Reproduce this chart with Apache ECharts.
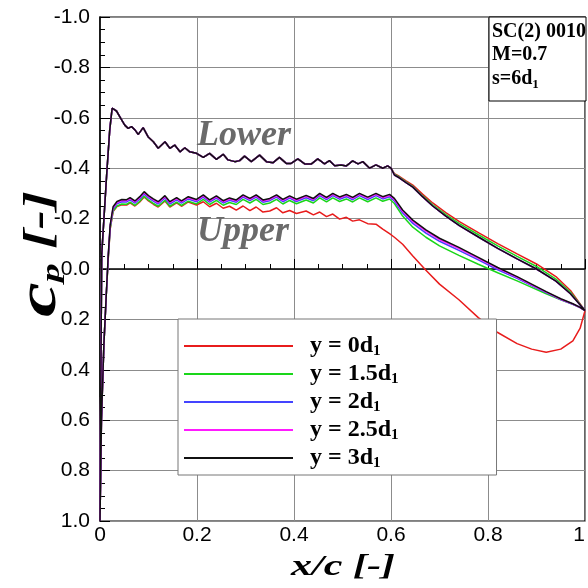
<!DOCTYPE html>
<html><head><meta charset="utf-8">
<script src="https://cdn.jsdelivr.net/npm/echarts@6/dist/echarts.min.js"></script>
<style>html,body{margin:0;padding:0;background:#fff}#c{width:588px;height:588px}</style>
</head><body><div id="c"></div>
<script>
// ---- tick labels ----
const X_TICKS = ['0', '0.2', '0.4', '0.6', '0.8', '1'];
const Y_TICKS = ['-1.0', '-0.8', '-0.6', '-0.4', '-0.2', '0.0', '0.2', '0.4', '0.6', '0.8', '1.0'];

// ---- series (spacing y in d1) ----
const SPACINGS = ['0', '1.5', '2', '2.5', '3'];
const COLORS = ['#e81c1c', '#1ad61a', '#4444ff', '#ff1aff', '#111111'];

// ---- upper surface: x/c from leading edge to trailing edge ----
const UPPER_X = [0, 0.003, 0.008, 0.013, 0.017, 0.021, 0.027, 0.035, 0.045, 0.055,
  0.062, 0.072, 0.082, 0.091, 0.100, 0.110, 0.120, 0.134, 0.144, 0.158,
  0.168, 0.182, 0.199, 0.213, 0.226, 0.240, 0.254, 0.267, 0.281, 0.295,
  0.309, 0.322, 0.336, 0.350, 0.364, 0.377, 0.391, 0.405, 0.425, 0.440,
  0.453, 0.467, 0.480, 0.494, 0.508, 0.521, 0.535, 0.552, 0.569, 0.583,
  0.597, 0.607, 0.624, 0.645, 0.672, 0.700, 0.740, 0.780, 0.820, 0.860,
  0.890, 0.920, 0.950, 0.975, 0.990, 1.0];

const UPPER_CP_Y0 = [1.0, 0.6, 0.3, 0.1, -0.040, -0.158, -0.228, -0.248, -0.255, -0.254,
  -0.262, -0.250, -0.266, -0.286, -0.270, -0.257, -0.246, -0.270, -0.246, -0.262,
  -0.249, -0.266, -0.254, -0.267, -0.247, -0.261, -0.241, -0.249, -0.234, -0.250,
  -0.232, -0.246, -0.226, -0.230, -0.243, -0.223, -0.232, -0.220, -0.230, -0.215,
  -0.226, -0.208, -0.218, -0.198, -0.205, -0.190, -0.195, -0.180, -0.178, -0.158,
  -0.140, -0.126, -0.098, -0.052, 0.005, 0.060, 0.122, 0.193, 0.252, 0.296,
  0.318, 0.330, 0.318, 0.285, 0.235, 0.165];

const UPPER_CP_Y15 = [1.0, 0.6, 0.3, 0.1, -0.044, -0.160, -0.230, -0.250, -0.258, -0.257,
  -0.265, -0.252, -0.269, -0.289, -0.273, -0.260, -0.249, -0.273, -0.249, -0.265,
  -0.252, -0.269, -0.258, -0.276, -0.256, -0.272, -0.253, -0.264, -0.256, -0.276,
  -0.262, -0.276, -0.256, -0.262, -0.276, -0.258, -0.272, -0.259, -0.274, -0.262,
  -0.282, -0.266, -0.282, -0.268, -0.278, -0.266, -0.282, -0.267, -0.282, -0.269,
  -0.278, -0.260, -0.210, -0.166, -0.126, -0.092, -0.054, -0.019, 0.015, 0.047,
  0.073, 0.098, 0.122, 0.140, 0.153, 0.165];

const UPPER_CP_Y2 = [1.0, 0.6, 0.3, 0.1, -0.048, -0.167, -0.238, -0.259, -0.267, -0.266,
  -0.274, -0.261, -0.278, -0.298, -0.282, -0.269, -0.258, -0.282, -0.258, -0.274,
  -0.261, -0.278, -0.267, -0.285, -0.265, -0.281, -0.262, -0.273, -0.265, -0.285,
  -0.271, -0.285, -0.265, -0.271, -0.285, -0.267, -0.281, -0.268, -0.283, -0.271,
  -0.291, -0.275, -0.291, -0.277, -0.287, -0.275, -0.291, -0.276, -0.291, -0.278,
  -0.287, -0.270, -0.222, -0.181, -0.142, -0.110, -0.074, -0.036, 0.003, 0.037,
  0.066, 0.094, 0.121, 0.140, 0.153, 0.165];

const UPPER_CP_Y25 = [1.0, 0.6, 0.3, 0.1, -0.052, -0.171, -0.243, -0.264, -0.272, -0.271,
  -0.279, -0.266, -0.283, -0.303, -0.287, -0.274, -0.263, -0.287, -0.263, -0.279,
  -0.266, -0.283, -0.272, -0.290, -0.270, -0.286, -0.267, -0.278, -0.270, -0.290,
  -0.276, -0.290, -0.270, -0.276, -0.290, -0.272, -0.286, -0.273, -0.288, -0.276,
  -0.296, -0.280, -0.296, -0.282, -0.292, -0.280, -0.296, -0.281, -0.296, -0.283,
  -0.292, -0.276, -0.229, -0.189, -0.150, -0.117, -0.081, -0.042, -0.003, 0.033,
  0.063, 0.092, 0.120, 0.139, 0.153, 0.165];

const UPPER_CP_Y3 = [1.0, 0.6, 0.3, 0.1, -0.056, -0.175, -0.247, -0.268, -0.276, -0.275,
  -0.283, -0.270, -0.287, -0.307, -0.291, -0.278, -0.267, -0.291, -0.267, -0.283,
  -0.270, -0.287, -0.276, -0.294, -0.274, -0.290, -0.271, -0.282, -0.274, -0.294,
  -0.280, -0.294, -0.274, -0.280, -0.294, -0.276, -0.290, -0.277, -0.292, -0.280,
  -0.300, -0.284, -0.300, -0.286, -0.296, -0.284, -0.300, -0.285, -0.300, -0.287,
  -0.296, -0.280, -0.234, -0.194, -0.155, -0.122, -0.086, -0.046, -0.006, 0.030,
  0.060, 0.090, 0.118, 0.138, 0.152, 0.165];

// ---- lower surface: x/c from leading edge to trailing edge ----
const LOWER_X = [0, 0.0015, 0.0035, 0.0137, 0.020, 0.025, 0.034, 0.041, 0.051, 0.058,
  0.065, 0.072, 0.079, 0.089, 0.099, 0.110, 0.120, 0.134, 0.144, 0.154,
  0.165, 0.175, 0.185, 0.199, 0.213, 0.226, 0.240, 0.254, 0.264, 0.278,
  0.288, 0.298, 0.312, 0.329, 0.343, 0.357, 0.370, 0.384, 0.394, 0.408,
  0.422, 0.436, 0.449, 0.463, 0.473, 0.484, 0.497, 0.508, 0.521, 0.532,
  0.542, 0.556, 0.569, 0.583, 0.593, 0.600,
  0.607, 0.617, 0.631, 0.645, 0.665, 0.686, 0.713, 0.741, 0.782, 0.820,
  0.860, 0.900, 0.940, 0.970, 1.0];

// front part (x <= 0.6) is the same for all spacings
const LOWER_CP_FRONT = [1.0, 0.5, -0.056, -0.373, -0.55, -0.638, -0.627, -0.604, -0.571, -0.558,
  -0.565, -0.552, -0.534, -0.561, -0.525, -0.505, -0.479, -0.505, -0.479, -0.492,
  -0.465, -0.481, -0.465, -0.459, -0.443, -0.459, -0.435, -0.455, -0.433, -0.426,
  -0.430, -0.448, -0.426, -0.452, -0.426, -0.422, -0.443, -0.419, -0.419, -0.437,
  -0.417, -0.417, -0.437, -0.417, -0.430, -0.410, -0.413, -0.409, -0.429, -0.417,
  -0.426, -0.400, -0.413, -0.400, -0.409, -0.400];

const LOWER_CP_TAIL_Y0 = [-0.378, -0.368, -0.350, -0.333, -0.297, -0.262, -0.224, -0.188, -0.142, -0.101,
  -0.060, -0.020, 0.030, 0.085, 0.165];
const LOWER_CP_TAIL_Y15 = [-0.376, -0.365, -0.346, -0.328, -0.291, -0.255, -0.216, -0.180, -0.134, -0.092,
  -0.050, -0.010, 0.040, 0.092, 0.165];
const LOWER_CP_TAIL_Y2 = [-0.373, -0.362, -0.343, -0.325, -0.287, -0.250, -0.210, -0.172, -0.125, -0.082,
  -0.040, 0.000, 0.048, 0.098, 0.165];
const LOWER_CP_TAIL_Y25 = [-0.373, -0.362, -0.343, -0.325, -0.287, -0.250, -0.210, -0.172, -0.125, -0.082,
  -0.040, 0.000, 0.048, 0.098, 0.165];
const LOWER_CP_TAIL_Y3 = [-0.373, -0.362, -0.343, -0.325, -0.287, -0.250, -0.210, -0.172, -0.125, -0.082,
  -0.040, 0.000, 0.048, 0.098, 0.165];

const UPPER_SETS = [UPPER_CP_Y0, UPPER_CP_Y15, UPPER_CP_Y2, UPPER_CP_Y25, UPPER_CP_Y3];
const LOWER_TAILS = [LOWER_CP_TAIL_Y0, LOWER_CP_TAIL_Y15, LOWER_CP_TAIL_Y2, LOWER_CP_TAIL_Y25, LOWER_CP_TAIL_Y3];

function buildLoop(i) {
  const lowerCp = LOWER_CP_FRONT.concat(LOWER_TAILS[i]);
  const pts = [];
  for (let k = LOWER_X.length - 1; k >= 0; k--) pts.push([LOWER_X[k], lowerCp[k]]);
  const up = UPPER_SETS[i];
  for (let k = 0; k < UPPER_X.length; k++) pts.push([UPPER_X[k], up[k]]);
  return pts;
}

const SERIF = '"Liberation Serif", "Times New Roman", serif';
const SANS = '"Liberation Sans", Arial, sans-serif';

const chart = echarts.init(document.getElementById('c'), null, {renderer: 'canvas'});

const series = SPACINGS.map((s, i) => ({
  name: 'y = ' + s + 'd1',
  type: 'line',
  data: buildLoop(i),
  showSymbol: false,
  symbol: 'none',
  lineStyle: {color: COLORS[i], width: 1.5},
  itemStyle: {color: COLORS[i]},
  clip: true,
  animation: false,
  z: 3
}));

chart.setOption({
  animation: false,
  backgroundColor: '#fff',
  grid: {left: 100, right: 2, top: 17, bottom: 67, show: true, borderColor: '#000', borderWidth: 1.2, backgroundColor: 'transparent'},
  xAxis: {
    type: 'value', min: 0, max: 1, interval: 0.2,
    axisLine: {show: true, lineStyle: {color: '#000', width: 1.5}},
    axisTick: {show: true, inside: true, length: 10, lineStyle: {color: '#000', width: 1}},
    minorTick: {show: true, splitNumber: 4, length: 5, lineStyle: {color: '#000', width: 1}},
    splitLine: {show: true, lineStyle: {color: '#8c8c8c', width: 1}},
    axisLabel: {
      margin: 4, fontFamily: SANS, fontSize: 21, color: '#000',
      alignMaxLabel: 'right',
      formatter: v => X_TICKS[Math.round(v / 0.2)]
    }
  },
  yAxis: {
    type: 'value', min: -1, max: 1, interval: 0.2, inverse: true,
    axisLine: {show: true, lineStyle: {color: '#000', width: 1.5}},
    axisTick: {show: true, inside: true, length: 10, lineStyle: {color: '#000', width: 1}},
    minorTick: {show: true, splitNumber: 4, length: 5, lineStyle: {color: '#000', width: 1}},
    splitLine: {show: true, lineStyle: {color: '#8c8c8c', width: 1}},
    axisLabel: {
      margin: 10, fontFamily: SANS, fontSize: 21, color: '#000',
      formatter: v => Y_TICKS[Math.round((v + 1) / 0.2)]
    }
  },
  legend: {
    orient: 'vertical', left: 178, top: 319,
    icon: 'rect', itemWidth: 109, itemHeight: 2, itemGap: 3,
    padding: [15, 98, 4, 6],
    backgroundColor: '#fff', borderColor: '#777', borderWidth: 1,
    selectedMode: false,
    data: series.map(s => s.name),
    formatter: name => '{t|' + name.slice(0, -1) + '}{s|1}',
    textStyle: {
      padding: [0, 0, 0, 12],
      rich: {
        t: {fontFamily: SERIF, fontWeight: 'bold', fontSize: 24, lineHeight: 26, color: '#000', verticalAlign: 'middle'},
        s: {fontFamily: SERIF, fontWeight: 'bold', fontSize: 15, lineHeight: 15, color: '#000', verticalAlign: 'bottom'}
      }
    }
  },
  graphic: [
    {type: 'rect', z: 10, shape: {x: 489, y: 17, width: 97, height: 84}, style: {fill: '#fff', stroke: '#000', lineWidth: 1}},
    {type: 'text', z: 11, x: 492, y: 32, style: {text: 'SC(2) 0010', font: 'bold 20px ' + SERIF, fill: '#000', align: 'left', verticalAlign: 'middle'}},
    {type: 'text', z: 11, x: 492, y: 55, style: {text: 'M=0.7', font: 'bold 20px ' + SERIF, fill: '#000', align: 'left', verticalAlign: 'middle'}},
    {type: 'text', z: 11, x: 492, y: 79, style: {
      text: '{a|s=6d}{b|1}', align: 'left', verticalAlign: 'middle',
      rich: {
        a: {fontFamily: SERIF, fontWeight: 'bold', fontSize: 20, lineHeight: 24, fill: '#000', verticalAlign: 'middle'},
        b: {fontFamily: SERIF, fontWeight: 'bold', fontSize: 13, lineHeight: 13, fill: '#000', verticalAlign: 'bottom'}
      }}},
    {type: 'text', z: 11, x: 197, y: 136, style: {text: 'Lower', font: 'italic bold 36px ' + SERIF, fill: '#6a6a6a', align: 'left', verticalAlign: 'middle'}},
    {type: 'text', z: 11, x: 197, y: 232, style: {text: 'Upper', font: 'italic bold 36px ' + SERIF, fill: '#6a6a6a', align: 'left', verticalAlign: 'middle'}},
    {type: 'text', z: 11, x: 343, y: 568, scaleX: 1.45, style: {text: 'x/c [-]', font: 'italic bold 29px ' + SERIF, fill: '#000', align: 'center', verticalAlign: 'middle'}},
    {type: 'text', z: 11, x: 41, y: 254, rotation: Math.PI / 2, scaleX: 1.45, style: {
      text: '{c|c}{b|p}{a| [-]}', align: 'center', verticalAlign: 'middle',
      rich: {
        c: {fontFamily: SERIF, fontStyle: 'italic', fontWeight: 'bold', fontSize: 54, lineHeight: 48, fill: '#000', verticalAlign: 'middle'},
        a: {fontFamily: SERIF, fontStyle: 'italic', fontWeight: 'bold', fontSize: 40, lineHeight: 48, fill: '#000', verticalAlign: 'middle'},
        b: {fontFamily: SERIF, fontStyle: 'italic', fontWeight: 'bold', fontSize: 26, lineHeight: 26, fill: '#000', verticalAlign: 'bottom'}
      }}}
  ],
  series: series
});
</script>
</body></html>
